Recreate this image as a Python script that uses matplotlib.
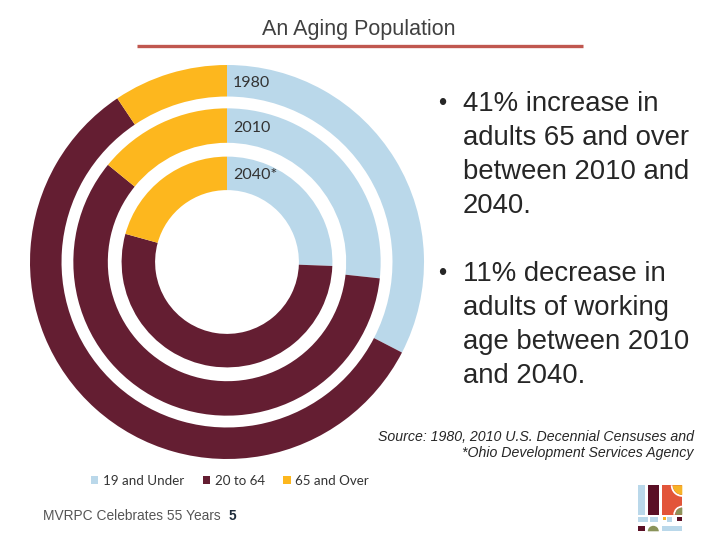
import matplotlib
matplotlib.use("Agg")
import matplotlib.pyplot as plt
from matplotlib.patches import Rectangle, Wedge, Patch

# age-group shares per year (percent)
groups = ["19 and Under", "20 to 64", "65 and Over"]
share_1980 = [32.6, 58.0, 9.4]
share_2010 = [26.7, 59.2, 14.1]
share_2040 = [25.6, 53.7, 20.7]
years = ["1980", "2010", "2040*"]
colors = ["#bad8ea", "#641e32", "#fdb71e"]

bullet_1 = ["41% increase in", "adults 65 and over", "between 2010 and", "2040."]
bullet_2 = ["11% decrease in", "adults of working", "age between 2010", "and 2040."]
source = ["Source: 1980, 2010 U.S. Decennial Censuses and", "*Ohio Development Services Agency"]

W, H = 720, 540
fig = plt.figure(figsize=(W / 100, H / 100), dpi=100)

# overlay in pixel coords for slide decoration
bg = fig.add_axes([0, 0, 1, 1]); bg.set_xlim(0, W); bg.set_ylim(H, 0); bg.axis("off")
bg.text(359, 30, "An Aging Population", ha="center", va="center", fontsize=15.5,
        family="Liberation Sans", color="#404040")
bg.plot([137, 583], [46, 46], color="#c0574f", lw=2.4, solid_capstyle="butt")

# nested donut
cx, cy, R = 227, 262, 197
ax = fig.add_axes([(cx - R) / W, (H - cy - R) / H, 2 * R / W, 2 * R / H])
ax.set_xlim(-1, 1); ax.set_ylim(-1, 1); ax.set_aspect("equal"); ax.axis("off")
rings = [(share_1980, 1.0, 0.16), (share_2010, 0.78, 0.175), (share_2040, 0.535, 0.17)]
for (vals, r, w), yr in zip(rings, years):
    ax.pie(vals, radius=r, colors=colors, startangle=90, counterclock=False,
           wedgeprops=dict(width=w, edgecolor="none"))
    ax.text(0.03, r - w / 2 - 0.01, yr, ha="left", va="center", fontsize=11.5,
            family="Lato", color="#333333")
ax.set_xlim(-1, 1); ax.set_ylim(-1, 1)

# legend under the donut
handles = [Patch(facecolor=c, edgecolor="none") for c in colors]
fig.legend(handles, groups, loc="center", bbox_to_anchor=(230 / W, 1 - 481 / H), ncol=3,
           frameon=False, handlelength=0.55, handleheight=0.55, handletextpad=0.35,
           columnspacing=1.4, prop=dict(family="Lato", size=9.6), labelcolor="#333333")

# bullet text
for lines, y0 in [(bullet_1, 104), (bullet_2, 274)]:
    bg.text(442, y0, "•", ha="center", va="center", fontsize=17, family="Liberation Sans", color="#262626")
    for i, ln in enumerate(lines):
        bg.text(463, y0 + 34 * i, ln, ha="left", va="center", fontsize=19.8,
                family="Liberation Sans", color="#262626")

for i, ln in enumerate(source):
    bg.text(694, 437 + 16 * i, ln, ha="right", va="center", fontsize=10.2,
            family="Liberation Sans", style="italic", color="#262626")

bg.text(43, 516, "MVRPC Celebrates 55 Years", ha="left", va="center", fontsize=9.9,
        family="Liberation Sans", color="#555555")
bg.text(229, 516, "5", ha="left", va="center", fontsize=9.9, family="Liberation Sans",
        weight="bold", color="#1d2b3a")

# small logo
def rect(x0, y0, x1, y1, c):
    bg.add_patch(Rectangle((x0, y0), x1 - x0, y1 - y0, fc=c, ec="none"))
rect(637.7, 485.3, 645, 514.7, "#bad8ea")
rect(647.7, 485.3, 659.3, 514.7, "#5a0f25")
rect(662.3, 485.3, 682.3, 514.7, "#e2553a")
bg.add_patch(Wedge((682.3, 485.3), 11.5, 90, 180, width=1.8, fc="white", ec="none"))
bg.add_patch(Wedge((682.3, 485.3), 9.5, 90, 180, fc="#f6b327", ec="none"))
bg.add_patch(Wedge((682.3, 514.7), 9, 180, 270, width=1.8, fc="white", ec="none"))
bg.add_patch(Wedge((682.3, 514.7), 7, 180, 270, fc="#8a935a", ec="none"))
rect(637.7, 517.3, 647.7, 522.3, "#bad8ea")
rect(649.5, 517.3, 658.3, 522.3, "#bad8ea")
rect(666.7, 517.3, 671.7, 522.3, "#bad8ea")
rect(662.5, 517.3, 665.5, 520.0, "#f6b327")
rect(676.7, 517.3, 682.3, 520.7, "#5a0f25")
rect(637.7, 526.3, 645, 531.3, "#5a0f25")
bg.add_patch(Wedge((653.3, 531.3), 5.5, 180, 360, fc="#8a935a", ec="none"))
rect(661.7, 526.3, 682.3, 531.3, "#bad8ea")

fig.savefig("out.png", dpi=100)
